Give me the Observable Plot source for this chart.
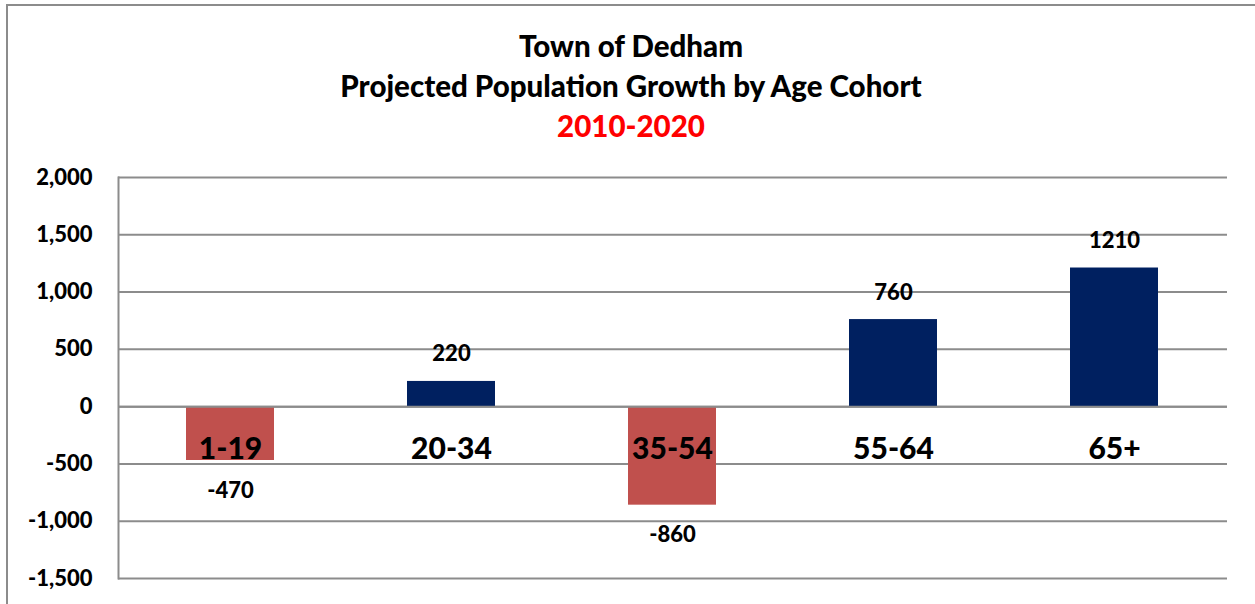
<!DOCTYPE html>
<html>
<head>
<meta charset="utf-8">
<script src="https://cdn.jsdelivr.net/npm/d3@7"></script>
<script src="https://cdn.jsdelivr.net/npm/@observablehq/plot@0.6"></script>
<style>
  html, body { margin: 0; padding: 0; background: #fff; overflow: hidden; }
  body { width: 1255px; height: 604px; position: relative; font-family: Lato, "Open Sans", sans-serif; }
  #frame { position: absolute; left: 6px; top: 4px; width: 1300px; height: 700px; border: 2px solid #8c8c8c; box-sizing: border-box; }
  #titles { position: relative; height: 160px; width: 1255px; }
  .t { position: absolute; left: 0; width: 1262px; text-align: center; font-weight: 900; font-size: 29.5px; line-height: 32px; color: #000; }
  #chart { position: relative; }
</style>
</head>
<body>
<div id="frame"></div>
<div id="titles">
  <div class="t" style="top:30px">Town of Dedham</div>
  <div class="t" style="top:70px">Projected Population Growth by Age Cohort</div>
  <div class="t" style="top:110px; color:#ff0000">2010-2020</div>
</div>
<div id="chart"></div>
<script>
const categories = ["1-19", "20-34", "35-54", "55-64", "65+"];
const values = [-470, 220, -860, 760, 1210];
const yTicks = [-1500, -1000, -500, 0, 500, 1000, 1500, 2000];
const categoryLabelY = -370;

const data = categories.map((c, i) => ({cohort: c, value: values[i]}));
const pos = data.filter(d => d.value >= 0);
const neg = data.filter(d => d.value < 0);

const chart = Plot.plot({
  width: 1255,
  height: 444,
  marginLeft: 118,
  marginRight: 28,
  marginTop: 17,
  marginBottom: 26,
  style: {fontFamily: "Lato, 'Open Sans', sans-serif", background: "transparent", overflow: "visible"},
  x: {domain: categories, paddingInner: 0.6, paddingOuter: 0.3, axis: null},
  y: {domain: [-1500, 2000], axis: null},
  marks: [
    Plot.ruleY(yTicks, {stroke: "#8c8c8c", strokeWidth: 2}),
    Plot.barY(data, {x: "cohort", y: "value", fill: d => d.value < 0 ? "#C0504D" : "#002060"}),
    Plot.ruleY([0], {stroke: "#8c8c8c", strokeWidth: 2}),
    Plot.frame({anchor: "left", stroke: "#8c8c8c", strokeWidth: 2}),
    Plot.axisY({ticks: yTicks, tickSize: 0, tickPadding: 26, anchor: "left", label: null,
      tickFormat: d => d.toLocaleString("en-US"), fontSize: 22, fontWeight: 900, fill: "#000"}),
    Plot.text(pos, {x: "cohort", y: "value", text: d => String(d.value), dy: -27,
      fontSize: 22, fontWeight: 900, fill: "#000", lineAnchor: "middle"}),
    Plot.text(neg, {x: "cohort", y: "value", text: d => String(d.value), dy: 30,
      fontSize: 22, fontWeight: 900, fill: "#000", lineAnchor: "middle"}),
    Plot.text(data, {x: "cohort", y: () => categoryLabelY, text: "cohort",
      fontSize: 30, fontWeight: 900, fill: "#000", lineAnchor: "middle"})
  ]
});
document.getElementById("chart").appendChild(chart);
</script>
</body>
</html>
